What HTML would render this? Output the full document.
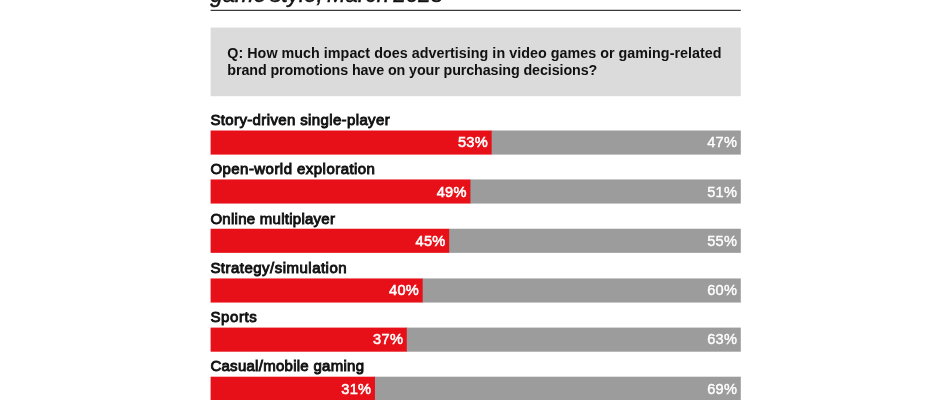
<!DOCTYPE html>
<html><head><meta charset="utf-8">
<style>
html,body{margin:0;padding:0;background:#fff;}
body{width:940px;height:400px;overflow:hidden;position:relative;font-family:"Liberation Sans",sans-serif;color:#111;}
svg{position:absolute;left:0;top:0;}
div{position:absolute;line-height:25px;height:25px;white-space:nowrap;}
.title{left:210.2px;font-size:22.05px;font-style:italic;color:#111;-webkit-text-stroke:0.5px #111;word-spacing:-2.2px;letter-spacing:0.2px;}
.q{left:227.3px;font-size:14.3px;font-weight:bold;}
.lbl{left:210.4px;font-size:15px;-webkit-text-stroke:0.9px #111;}
.pct.g{-webkit-text-stroke:0.4px #fff;}
.pct{-webkit-text-stroke:0.55px #fff;letter-spacing:0.3px;font-size:14.6px;color:#fff;}
</style></head><body>
<svg width="940" height="400" viewBox="0 0 940 400">
<rect x="210.6" y="9.8" width="530.20" height="1.05" fill="#181818"/>
<rect x="210.6" y="27.55" width="530.20" height="68.65" fill="#dbdbdb"/>
<rect x="491" y="130.50" width="249.80" height="24.1" fill="#9c9c9c"/>
<rect x="210.6" y="130.50" width="281.01" height="24.1" fill="#e81018"/>
<rect x="470" y="179.45" width="270.80" height="24.1" fill="#9c9c9c"/>
<rect x="210.6" y="179.45" width="259.80" height="24.1" fill="#e81018"/>
<rect x="449" y="228.75" width="291.80" height="24.1" fill="#9c9c9c"/>
<rect x="210.6" y="228.75" width="238.59" height="24.1" fill="#e81018"/>
<rect x="422" y="278.45" width="318.80" height="24.1" fill="#9c9c9c"/>
<rect x="210.6" y="278.45" width="212.08" height="24.1" fill="#e81018"/>
<rect x="406" y="327.60" width="334.80" height="24.1" fill="#9c9c9c"/>
<rect x="210.6" y="327.60" width="196.17" height="24.1" fill="#e81018"/>
<rect x="374" y="376.70" width="366.80" height="24.1" fill="#9c9c9c"/>
<rect x="210.6" y="376.70" width="164.36" height="24.1" fill="#e81018"/>
</svg>
<div class="title" style="top:-18px">game style, March 2025</div>
<div class="q" style="top:40.5px;letter-spacing:0.037px">Q: How much impact does advertising in video games or gaming-related</div>
<div class="q" style="top:57.5px;letter-spacing:-0.10px">brand promotions have on your purchasing decisions?</div>
<div class="lbl" style="top:107px;letter-spacing:0.369px">Story-driven single-player</div>
<div class="pct" style="top:129.5px;right:451.99px">53%</div>
<div class="pct g" style="top:129.5px;right:202.70px">47%</div>
<div class="lbl" style="top:156px;letter-spacing:0.452px">Open-world exploration</div>
<div class="pct" style="top:179.5px;right:473.20px">49%</div>
<div class="pct g" style="top:179.5px;right:202.70px">51%</div>
<div class="lbl" style="top:206px;letter-spacing:0.266px">Online multiplayer</div>
<div class="pct" style="top:228.5px;right:494.41px">45%</div>
<div class="pct g" style="top:228.5px;right:202.70px">55%</div>
<div class="lbl" style="top:255px;letter-spacing:0.479px">Strategy/simulation</div>
<div class="pct" style="top:277.5px;right:520.92px">40%</div>
<div class="pct g" style="top:277.5px;right:202.70px">60%</div>
<div class="lbl" style="top:304px;letter-spacing:0.62px">Sports</div>
<div class="pct" style="top:326.5px;right:536.83px">37%</div>
<div class="pct g" style="top:326.5px;right:202.70px">63%</div>
<div class="lbl" style="top:353px;letter-spacing:0.272px">Casual/mobile gaming</div>
<div class="pct" style="top:376.5px;right:568.64px">31%</div>
<div class="pct g" style="top:376.5px;right:202.70px">69%</div>
</body></html>
